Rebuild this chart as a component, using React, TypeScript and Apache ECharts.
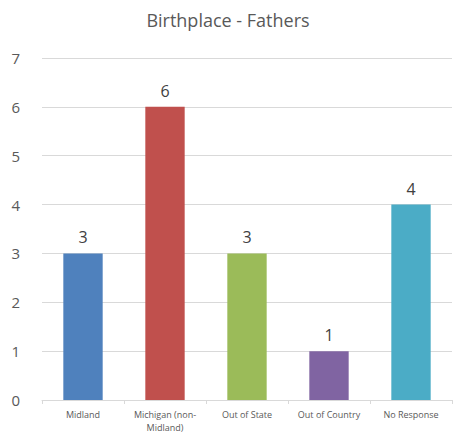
import React, { useEffect, useRef } from "react";
import * as echarts from "echarts";

const categories = ["Midland", "Michigan (non-\nMidland)", "Out of State", "Out of Country", "No Response"];
const values = [3, 6, 3, 1, 4];
const colors = ["#4F81BD", "#C0504D", "#9BBB59", "#8064A2", "#4BACC6"];

export default function App() {
  const ref = useRef<HTMLDivElement>(null);
  useEffect(() => {
    const chart = echarts.init(ref.current!, null, { renderer: "svg" });
    chart.setOption({
      animation: false,
      backgroundColor: "#fff",
      title: {
        text: "Birthplace - Fathers",
        left: "center",
        top: 6,
        textStyle: { fontFamily: "Open Sans", fontSize: 18, fontWeight: "normal", color: "#595959" },
      },
      grid: { left: 42, right: 4, top: 58, bottom: 36, containLabel: false },
      xAxis: {
        type: "category",
        data: categories,
        axisLine: { lineStyle: { color: "#D9D9D9", width: 1 } },
        axisTick: { show: true, length: 4, lineStyle: { color: "#D9D9D9" } },
        axisLabel: { fontFamily: "Open Sans", fontSize: 9, color: "#595959", margin: 8, lineHeight: 13, interval: 0 },
      },
      yAxis: {
        type: "value",
        min: 0,
        max: 7,
        interval: 1,
        axisLine: { show: false },
        axisTick: { show: false },
        splitLine: { lineStyle: { color: "#D9D9D9", width: 1 } },
        axisLabel: { fontFamily: "Open Sans", fontSize: 15, color: "#595959", margin: 22 },
      },
      series: [
        {
          type: "bar",
          barWidth: "48%",
          data: values.map((v, i) => ({ value: v, itemStyle: { color: colors[i] } })),
          label: {
            show: true,
            position: "top",
            distance: 8,
            fontFamily: "Open Sans",
            fontSize: 16,
            color: "#404040",
          },
        },
      ],
    });
    return () => chart.dispose();
  }, []);
  return <div ref={ref} style={{ width: 456, height: 436, position: "absolute", left: 0, top: 0 }} />;
}
